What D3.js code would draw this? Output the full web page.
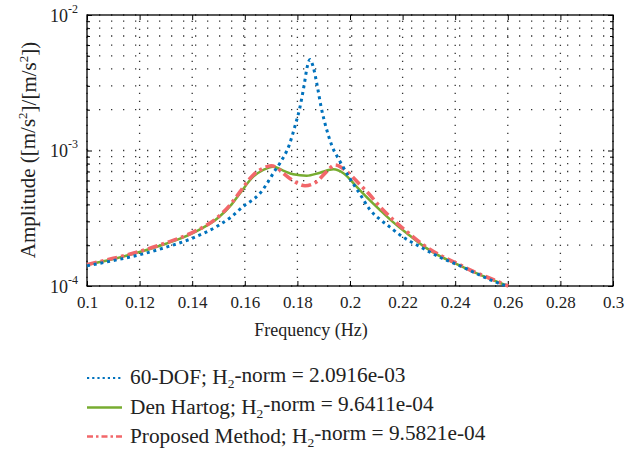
<!DOCTYPE html>
<html>
<head>
<meta charset="utf-8">
<script src="https://cdn.jsdelivr.net/npm/d3@7"></script>
<style>
  body { margin: 0; background: #fff; }
  svg text { font-family: "Liberation Serif", "Times New Roman", serif; fill: #222; }
</style>
</head>
<body>
<div id="chart"></div>
<script>
// values
const xTicks = [0.1, 0.12, 0.14, 0.16, 0.18, 0.2, 0.22, 0.24, 0.26, 0.28, 0.3];
const yMajor = [1e-4, 1e-3, 1e-2];
const yMinor = [2e-4, 3e-4, 4e-4, 5e-4, 6e-4, 7e-4, 8e-4, 9e-4,
                2e-3, 3e-3, 4e-3, 5e-3, 6e-3, 7e-3, 8e-3, 9e-3];

// 60-DOF
const freqDOF = [0.100, 0.110, 0.120, 0.130, 0.140, 0.150, 0.155, 0.160, 0.162, 0.1658, 0.1689, 0.1708, 0.1734,
                 0.1769, 0.1791, 0.1810, 0.1825, 0.1838, 0.1848, 0.1860, 0.1876, 0.1890, 0.1909, 0.1930,
                 0.1962, 0.2000, 0.2040, 0.2076, 0.2114, 0.2152, 0.2190, 0.2266, 0.2342, 0.2418, 0.2507, 0.2583, 0.2600];
const ampDOF = [1.41e-4, 1.54e-4, 1.70e-4, 1.93e-4, 2.25e-4, 2.80e-4, 3.25e-4, 3.95e-4, 4.19e-4, 4.83e-4, 5.89e-4, 6.8e-4, 8.1e-4,
                1.10e-3, 1.52e-3, 2.10e-3, 2.99e-3, 4.2e-3, 4.7e-3, 4.15e-3, 2.96e-3, 2.10e-3, 1.48e-3, 1.10e-3,
                8.3e-4, 6.2e-4, 4.7e-4, 3.65e-4, 3.1e-4, 2.72e-4, 2.38e-4, 1.95e-4, 1.63e-4, 1.41e-4, 1.17e-4, 1.02e-4, 1.0e-4];

// Den Hartog
const freqDH = [0.100, 0.110, 0.120, 0.130, 0.140, 0.150, 0.155, 0.1582, 0.1632, 0.1670, 0.1708, 0.1746, 0.1784,
                0.1835, 0.1886, 0.1937, 0.1975, 0.2025, 0.2070, 0.2114, 0.2165, 0.2216, 0.2279, 0.2342,
                0.2406, 0.2469, 0.2532, 0.2600];
const ampDH = [1.43e-4, 1.58e-4, 1.78e-4, 2.05e-4, 2.45e-4, 3.20e-4, 4.0e-4, 4.83e-4, 6.41e-4, 7.18e-4, 7.6e-4, 7.1e-4, 6.67e-4,
               6.52e-4, 6.86e-4, 7.26e-4, 6.79e-4, 5.41e-4, 4.4e-4, 3.64e-4, 2.95e-4, 2.45e-4, 1.97e-4, 1.66e-4,
               1.45e-4, 1.27e-4, 1.13e-4, 1.0e-4];

// Proposed Method
const freqPM = [0.100, 0.110, 0.120, 0.130, 0.140, 0.150, 0.155, 0.1582, 0.1632, 0.1670, 0.1700, 0.1725, 0.1746, 0.1784,
                0.1829, 0.1873, 0.1911, 0.1943, 0.1988, 0.2038, 0.2070, 0.2114, 0.2165, 0.2216, 0.2279, 0.2342,
                0.2406, 0.2469, 0.2532, 0.2602];
const ampPM = [1.44e-4, 1.60e-4, 1.80e-4, 2.08e-4, 2.48e-4, 3.25e-4, 4.1e-4, 4.97e-4, 6.6e-4, 7.39e-4, 7.72e-4, 7.4e-4, 6.79e-4, 5.98e-4,
               5.5e-4, 5.89e-4, 6.98e-4, 7.82e-4, 7.0e-4, 5.6e-4, 4.83e-4, 3.85e-4, 3.07e-4, 2.52e-4, 2.01e-4, 1.69e-4,
               1.47e-4, 1.28e-4, 1.14e-4, 1.0e-4];

const seriesNames = ["60-DOF", "Den Hartog", "Proposed Method"];
const h2Norms = ["2.0916e-03", "9.6411e-04", "9.5821e-04"];

const width = 638, height = 451;
const plot = {left: 87, top: 15, right: 613, bottom: 286};

let svg = d3.select("#chart").append("svg")
	.attr("width", width)
	.attr("height", height);

let x = d3.scaleLinear().domain([0.1, 0.3]).range([plot.left, plot.right]);
let y = d3.scaleLog().domain([1e-4, 1e-2]).range([plot.bottom, plot.top]);

// dotted grid
let grid = svg.append("g").attr("stroke", "#333").attr("stroke-width", 1.3);
grid.selectAll(".hgrid")
	.data(yMajor.concat(yMinor))
	.enter().append("line")
	.attr("x1", plot.left).attr("x2", plot.right)
	.attr("y1", d => y(d)).attr("y2", d => y(d))
	.attr("stroke-dasharray", "1.3,10.7");
grid.selectAll(".vgrid")
	.data(xTicks)
	.enter().append("line")
	.attr("x1", d => x(d)).attr("x2", d => x(d))
	.attr("y1", plot.bottom).attr("y2", plot.top)
	.attr("stroke-dasharray", "1.3,6.7");

// axes, ticks pointing inward on all sides
function styleAxis(g) {
	g.select(".domain").remove();
	g.selectAll(".tick line").attr("stroke", "#000");
}

svg.append("g")
	.attr("transform", "translate(0," + plot.bottom + ")")
	.call(d3.axisBottom(x).tickValues(xTicks).tickSize(-5).tickPadding(10).tickFormat(d3.format("~g")))
	.call(styleAxis)
	.call(g => g.selectAll("text").attr("font-size", 17));

svg.append("g")
	.attr("transform", "translate(0," + plot.top + ")")
	.call(d3.axisTop(x).tickValues(xTicks).tickSize(-5).tickFormat(""))
	.call(styleAxis);

svg.append("g")
	.attr("transform", "translate(" + plot.left + ",0)")
	.call(d3.axisLeft(y).tickValues(yMajor).tickSize(-5).tickPadding(9).tickFormat(""))
	.call(styleAxis)
	.call(g => g.selectAll(".tick text")
		.attr("font-size", 18)
		.attr("dy", "0.35em")
		.each(function(d) {
			let t = d3.select(this);
			t.append("tspan").text("10");
			t.append("tspan").attr("font-size", 12).attr("dy", "-0.75em").text(String(Math.round(Math.log10(d))));
		}));

svg.append("g")
	.attr("transform", "translate(" + plot.left + ",0)")
	.call(d3.axisLeft(y).tickValues(yMinor).tickSize(-3).tickFormat(""))
	.call(styleAxis);

svg.append("g")
	.attr("transform", "translate(" + plot.right + ",0)")
	.call(d3.axisRight(y).tickValues(yMajor).tickSize(-5).tickFormat(""))
	.call(styleAxis);

svg.append("g")
	.attr("transform", "translate(" + plot.right + ",0)")
	.call(d3.axisRight(y).tickValues(yMinor).tickSize(-3).tickFormat(""))
	.call(styleAxis);

// box
svg.append("rect")
	.attr("x", plot.left).attr("y", plot.top)
	.attr("width", plot.right - plot.left).attr("height", plot.bottom - plot.top)
	.attr("fill", "none").attr("stroke", "#000").attr("stroke-width", 1.3);

// curves
const styles = [
	{color: "#0072BD", width: 3, dash: "3,3.8"},
	{color: "#77AC30", width: 2.5, dash: null},
	{color: "#F2676A", width: 3.6, dash: "10,4,3,4"}
];
const series = [
	d3.zip(freqDOF, ampDOF),
	d3.zip(freqDH, ampDH),
	d3.zip(freqPM, ampPM)
];

let line = d3.line()
	.x(d => x(d[0]))
	.y(d => y(d[1]))
	.curve(d3.curveMonotoneX);

svg.append("g").selectAll("path")
	.data([1, 2, 0])
	.enter().append("path")
	.attr("d", i => line(series[i]))
	.attr("fill", "none")
	.attr("stroke", i => styles[i].color)
	.attr("stroke-width", i => styles[i].width)
	.attr("stroke-dasharray", i => styles[i].dash);

// axis labels
svg.append("text")
	.attr("x", 311).attr("y", 336)
	.attr("text-anchor", "middle")
	.attr("font-size", 18)
	.text("Frequency (Hz)");

let ylab = svg.append("text")
	.attr("transform", "translate(35,150)rotate(-90)")
	.attr("text-anchor", "middle")
	.attr("font-size", 21);
ylab.append("tspan").text("Amplitude ([m/s");
ylab.append("tspan").attr("font-size", 13).attr("dy", "-0.6em").text("2");
ylab.append("tspan").attr("dy", "0.4em").text("]/[m/s");
ylab.append("tspan").attr("font-size", 13).attr("dy", "-0.6em").text("2");
ylab.append("tspan").attr("dy", "0.4em").text("])");

// legend
const legendRows = [378, 407.5, 436.5];
let legend = svg.append("g");
legendRows.forEach(function(ly, i) {
	legend.append("line")
		.attr("x1", 87).attr("x2", 122)
		.attr("y1", ly).attr("y2", ly)
		.attr("stroke", styles[i].color)
		.attr("stroke-width", i == 0 ? 2.2 : 2.4)
		.attr("stroke-dasharray", i == 0 ? "2.2,3" : (i == 2 ? "6,3,2.5,3" : null));
	let t = legend.append("text")
		.attr("x", 130).attr("y", ly + 6)
		.attr("font-size", 21.3);
	t.append("tspan").text(seriesNames[i] + "; H");
	t.append("tspan").attr("font-size", 13.5).attr("dy", "0.3em").text("2");
	t.append("tspan").attr("dy", "-0.3em").text("-norm = " + h2Norms[i]);
});
</script>
</body>
</html>
